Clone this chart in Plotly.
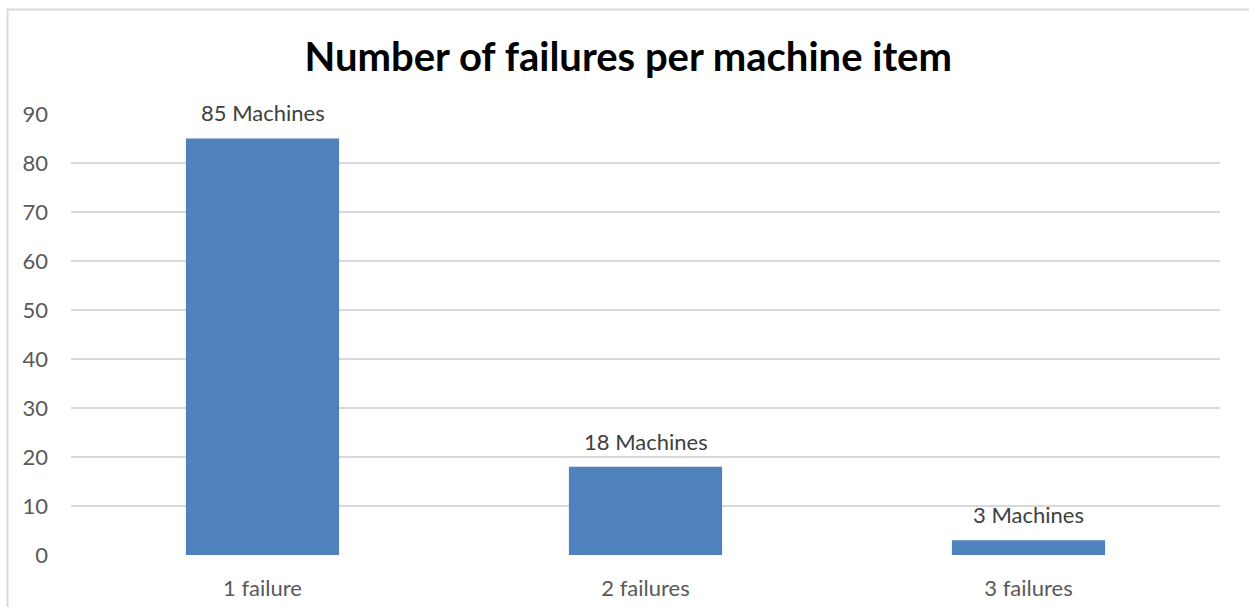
import plotly.graph_objects as go

categories = ["1 failure", "2 failures", "3 failures"]
values = [85, 18, 3]
labels = ["85 Machines", "18 Machines", "3 Machines"]

FONT = "Lato, 'Open Sans', sans-serif"

W, H = 1249, 607
L, R, T, B = 71, 29, 113, 52
PW, PH = W - L - R, H - T - B

fig = go.Figure(go.Bar(x=categories, y=values, marker=dict(color="#4F81BD", line=dict(width=0)),
                       hoverinfo="skip"))

for c, v, t in zip(categories, values, labels):
    fig.add_annotation(x=c, y=v, text=t, showarrow=False, yanchor="bottom", yshift=10,
                       font=dict(family=FONT, size=22, color="#404040"))

# light chart-area border (left and top edges visible, rest runs off the page)
fig.add_shape(type="rect", xref="paper", yref="paper",
              x0=(7.5 - L) / PW, x1=1.2, y0=-0.5, y1=(PH + T - 9.5) / PH,
              line=dict(color="#D9D9D9", width=2), layer="below")

fig.update_layout(
    width=W, height=H,
    margin=dict(l=L, r=R, t=T, b=B),
    paper_bgcolor="white", plot_bgcolor="white",
    bargap=0.6,
    showlegend=False,
    title=dict(text="<b>Number of failures per machine item</b>", x=0.503, xanchor="center",
               y=1 - 57 / H, yanchor="middle",
               font=dict(family=FONT, size=40, color="black")),
    xaxis=dict(showgrid=False, showline=False, zeroline=False, ticks="", automargin=False,
               tickfont=dict(family=FONT, size=22, color="#595959"), ticklabelstandoff=18),
    yaxis=dict(range=[0, 90.2], tickvals=[0, 10, 20, 30, 40, 50, 60, 70, 80, 90],
               showgrid=True, gridcolor="#D9D9D9", gridwidth=1.5, automargin=False,
               zeroline=False, showline=False, ticks="",
               tickfont=dict(family=FONT, size=22, color="#595959"), ticklabelstandoff=22),
)

fig.write_html("out.html", config={"displayModeBar": False},
               post_script="document.body.style.margin='0';document.body.style.overflow='hidden';")
